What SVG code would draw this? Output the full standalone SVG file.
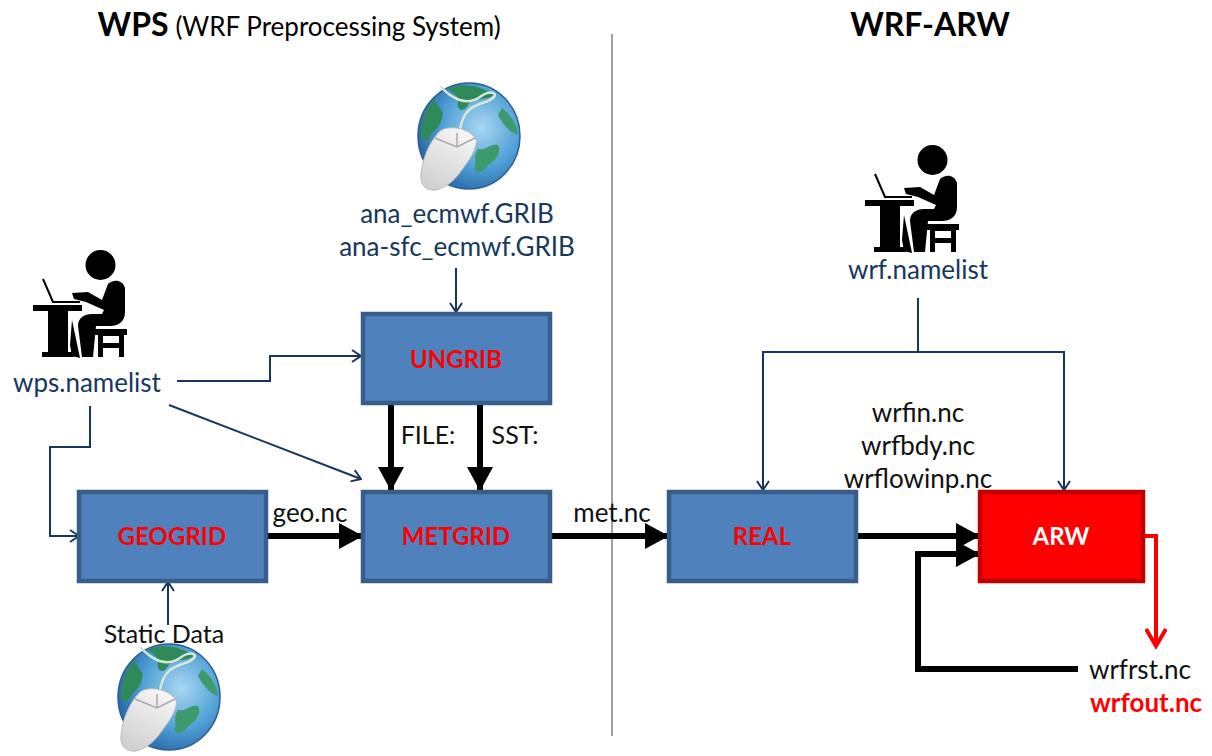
<svg xmlns="http://www.w3.org/2000/svg" width="1212" height="756" viewBox="0 0 1212 756">
<style>
text{font-family:"Lato","Carlito","Liberation Sans",sans-serif;font-size:26px;text-anchor:middle}
.n{fill:#17375e}.k{fill:#111}
.box rect{fill:#4f81bd;stroke:#385d8a;stroke-width:4.5}
.box text{fill:#ff0000;font-weight:700;font-size:24px}
.thin{fill:none;stroke:#17365d;stroke-width:2}
.thick{fill:none;stroke:#000;stroke-width:6}
</style>
<defs>
<radialGradient id="sea" cx="0.62" cy="0.42" r="0.7"><stop offset="0" stop-color="#a9d8f2"/><stop offset="0.55" stop-color="#4f9fd6"/><stop offset="1" stop-color="#1f5a99"/></radialGradient>
<linearGradient id="mouse" x1="0.7" y1="0" x2="0.2" y2="1"><stop offset="0" stop-color="#f6f6f6"/><stop offset="1" stop-color="#cfcfcf"/></linearGradient>
<marker id="open" viewBox="0 0 12 14" refX="11" refY="7" markerWidth="12" markerHeight="14" markerUnits="userSpaceOnUse" orient="auto"><path d="M2 1L11 7L2 13" fill="none" stroke="#17365d" stroke-width="2"/></marker>
<marker id="solid" viewBox="0 0 24 26" refX="23" refY="13" markerWidth="24" markerHeight="26" markerUnits="userSpaceOnUse" orient="auto"><path d="M0 0L24 13L0 26Z" fill="#000"/></marker>
<marker id="red" viewBox="0 0 22 22" refX="19" refY="11" markerWidth="22" markerHeight="22" markerUnits="userSpaceOnUse" orient="auto"><path d="M2 1L19 11L2 21" fill="none" stroke="#ff0000" stroke-width="4"/></marker>
<symbol id="globe" overflow="visible">
<ellipse cx="51" cy="53" rx="51" ry="53" fill="url(#sea)" stroke="#2a5f98" stroke-width="1.5"/>
<path d="M16 16C8 26 3 38 3 52C6 62 10 58 14 50C22 44 26 34 24 28C20 24 18 20 16 16Z" fill="#2f8a5a"/>
<path d="M30 5C45 0 62 2 76 12C68 18 55 14 50 22C46 30 38 28 40 18C40 12 34 10 30 5Z" fill="#2f8a5a"/>
<path d="M84 25C93 32 99 42 100 52C92 50 84 40 80 32Z" fill="#3d9a6c"/>
<path d="M60 66C68 68 72 60 80 62C84 68 78 78 70 82C66 88 62 92 56 86C60 80 54 74 60 66Z" fill="#3d9a6c"/>
<path d="M22 3C36 18 50 22 62 14C70 6 86 10 70 18C58 22 46 24 42 46" fill="none" stroke="#d8e8d8" stroke-width="2.5"/>
<path d="M22 48C30 42 50 44 58 56C60 62 54 74 46 84C38 96 30 104 18 107C8 108 2 102 3 92C4 78 10 60 22 48Z" fill="url(#mouse)" stroke="#bbb"/>
<path d="M17 55L39 64L57 55M39 64L39 50" fill="none" stroke="#aaa" stroke-width="1.500"/>
</symbol>
<symbol id="person" overflow="visible">
<circle cx="100.500" cy="265" r="15" fill="#000"/>
<path d="M43 279L53 302H80" fill="none" stroke="#000" stroke-width="2"/>
<path d="M33 305H82V311H68V352H74V357H42V352H48V311H33Z" fill="#000"/>
<path d="M72 293L88 292L102 300L108 284C112 280 122 278 125 288V312C125 322 118 326 110 326H96L93 357H82L78 326C78 318 84 314 92 314H102L104 310L86 302L74 299Z" fill="#000"/>
<path d="M94 329H127V335H124V357H119V348H103V357H98V335H94Z M103 336V343H119V336Z" fill="#000" fill-rule="evenodd"/>
<path d="M72 320L80 358L72 356L70 345Z" fill="#000"/>
</symbol>
</defs>
<g id="titles">
<text x="133" y="36" style="font-size:32px;font-weight:700">WPS</text>
<text x="338" y="36">(WRF Preprocessing System)</text>
<text x="930" y="36" style="font-size:32px;font-weight:700">WRF-ARW</text>
</g>
<line id="divider" x1="612" y1="34" x2="612" y2="736" stroke="#7f7f7f" stroke-width="1.500"/>
<g id="connectors">
<path class="thin" d="M456 268V312" marker-end="url(#open)"/>
<path class="thin" d="M177 381H270V356H361" marker-end="url(#open)"/>
<path class="thin" d="M169 405L361 479" marker-end="url(#open)"/>
<path class="thin" d="M90 406V447H50V536H79" marker-end="url(#open)"/>
<path class="thin" d="M168 625V582" marker-end="url(#open)"/>
<path class="thin" d="M918 298V352"/>
<path class="thin" d="M918 352H763V490" marker-end="url(#open)"/>
<path class="thin" d="M918 352H1064V490" marker-end="url(#open)"/>
<path class="thick" d="M391 403V490" marker-end="url(#solid)"/>
<path class="thick" d="M480 403V490" marker-end="url(#solid)"/>
<path class="thick" d="M267 536H362" marker-end="url(#solid)"/>
<path class="thick" d="M551 536H668" marker-end="url(#solid)"/>
<path class="thick" d="M857 536H979" marker-end="url(#solid)"/>
<path class="thick" d="M1078 669H918V554H979" marker-end="url(#solid)"/>
<path d="M1145 536H1156V646" fill="none" stroke="#ff0000" stroke-width="4" marker-end="url(#red)"/>
</g>
<g id="ungrib" class="box"><rect x="363" y="314" width="187" height="89"/><text x="456" y="368">UNGRIB</text></g>
<g id="geogrid" class="box"><rect x="79" y="492" width="187" height="89"/><text x="172" y="545">GEOGRID</text></g>
<g id="metgrid" class="box"><rect x="363" y="492" width="187" height="89"/><text x="456" y="545">METGRID</text></g>
<g id="real" class="box"><rect x="669" y="492" width="187" height="89"/><text x="762" y="545">REAL</text></g>
<g id="arw"><rect x="980" y="492" width="163" height="89" fill="#ff0000" stroke="#c00000" stroke-width="4.500"/><text x="1061" y="545" style="fill:#fff;font-weight:700;font-size:24px">ARW</text></g>
<g id="globe-ecmwf"><use href="#globe" x="418" y="83"/></g>
<g id="globe-static"><use href="#globe" x="118" y="644"/></g>
<g id="person-wps"><use href="#person"/></g>
<g id="person-wrf"><use href="#person" x="832" y="-105"/></g>
<g id="labels">
<text class="n" x="457" y="223">ana_ecmwf.GRIB</text>
<text class="n" x="457" y="256">ana-sfc_ecmwf.GRIB</text>
<text class="n" x="87" y="392">wps.namelist</text>
<text class="n" x="918" y="279">wrf.namelist</text>
<text class="k" x="428" y="444" style="font-size:25px">FILE:</text>
<text class="k" x="515" y="444" style="font-size:25px">SST:</text>
<text class="k" x="310" y="522">geo.nc</text>
<text class="k" x="612" y="522">met.nc</text>
<text class="k" x="164" y="643" style="font-size:25px">Static Data</text>
<text class="k" x="918" y="422">wrfin.nc</text>
<text class="k" x="918" y="455">wrfbdy.nc</text>
<text class="k" x="918" y="488">wrflowinp.nc</text>
<text class="k" x="1140" y="679">wrfrst.nc</text>
<text x="1146" y="712" style="fill:#ff0000;font-weight:700">wrfout.nc</text>
</g>
</svg>
